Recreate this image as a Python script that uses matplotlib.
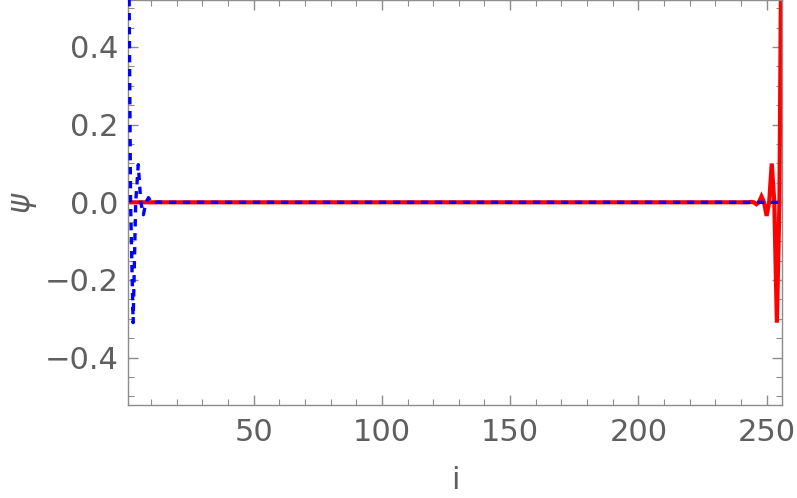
import numpy as np
import matplotlib
matplotlib.use("Agg")
import matplotlib.pyplot as plt
from matplotlib.ticker import MultipleLocator

# chain sites
n_sites = 256
sites = np.arange(1, n_sites + 1)

# edge amplitudes (rest of the chain is ~0)
left_edge = [0.95, 0.0, -0.31, 0.0, 0.097, 0.0, -0.032, 0.0, 0.012, 0.0, -0.003, 0.0, 0.001]
right_edge = [0.001, 0.0, -0.005, 0.0, 0.015, 0.0, -0.035, 0.0, 0.10, 0.0, -0.31, 0.0, 0.95]

psi_left = np.zeros(n_sites)
psi_left[:len(left_edge)] = left_edge
psi_right = np.zeros(n_sites)
psi_right[-len(right_edge):] = right_edge

frame_col = "#8c8c8c"
text_col = "#5f5f5f"

fig = plt.figure(figsize=(7.97, 4.98), dpi=100)
ax = fig.add_axes([128 / 797, 1 - 405 / 498, (782 - 128) / 797, 405 / 498])

ax.plot(sites, psi_right, color=(1, 0, 0), lw=3.0, solid_joinstyle="miter", zorder=2)
ax.plot(sites, psi_left, color=(0, 0, 1), lw=2.4, dashes=(2.2, 2.0), zorder=3)

ax.set_xlim(1, 256)
ax.set_ylim(-0.522, 0.521)

ax.xaxis.set_minor_locator(MultipleLocator(10))
ax.yaxis.set_minor_locator(MultipleLocator(0.05))
ax.set_xticks([50, 100, 150, 200, 250])
ax.set_yticks([-0.4, -0.2, 0.0, 0.2, 0.4])
ax.set_yticklabels(["\u22120.4", "\u22120.2", "0.0", "0.2", "0.4"])

for s in ax.spines.values():
    s.set_color(frame_col)
    s.set_linewidth(1.0)

ax.tick_params(which="both", direction="in", top=True, right=True,
               color=frame_col, labelcolor=text_col, labelsize=22)
ax.tick_params(which="major", length=7, width=1.0)
ax.tick_params(which="minor", length=4, width=0.8)
ax.tick_params(axis="x", pad=9)
ax.tick_params(axis="y", pad=7)

ax.set_xlabel("i", fontsize=22, color=text_col, labelpad=14)
ax.set_ylabel(r"$\psi$", fontsize=22, color=text_col, labelpad=4)

fig.savefig("out.png", dpi=100)
